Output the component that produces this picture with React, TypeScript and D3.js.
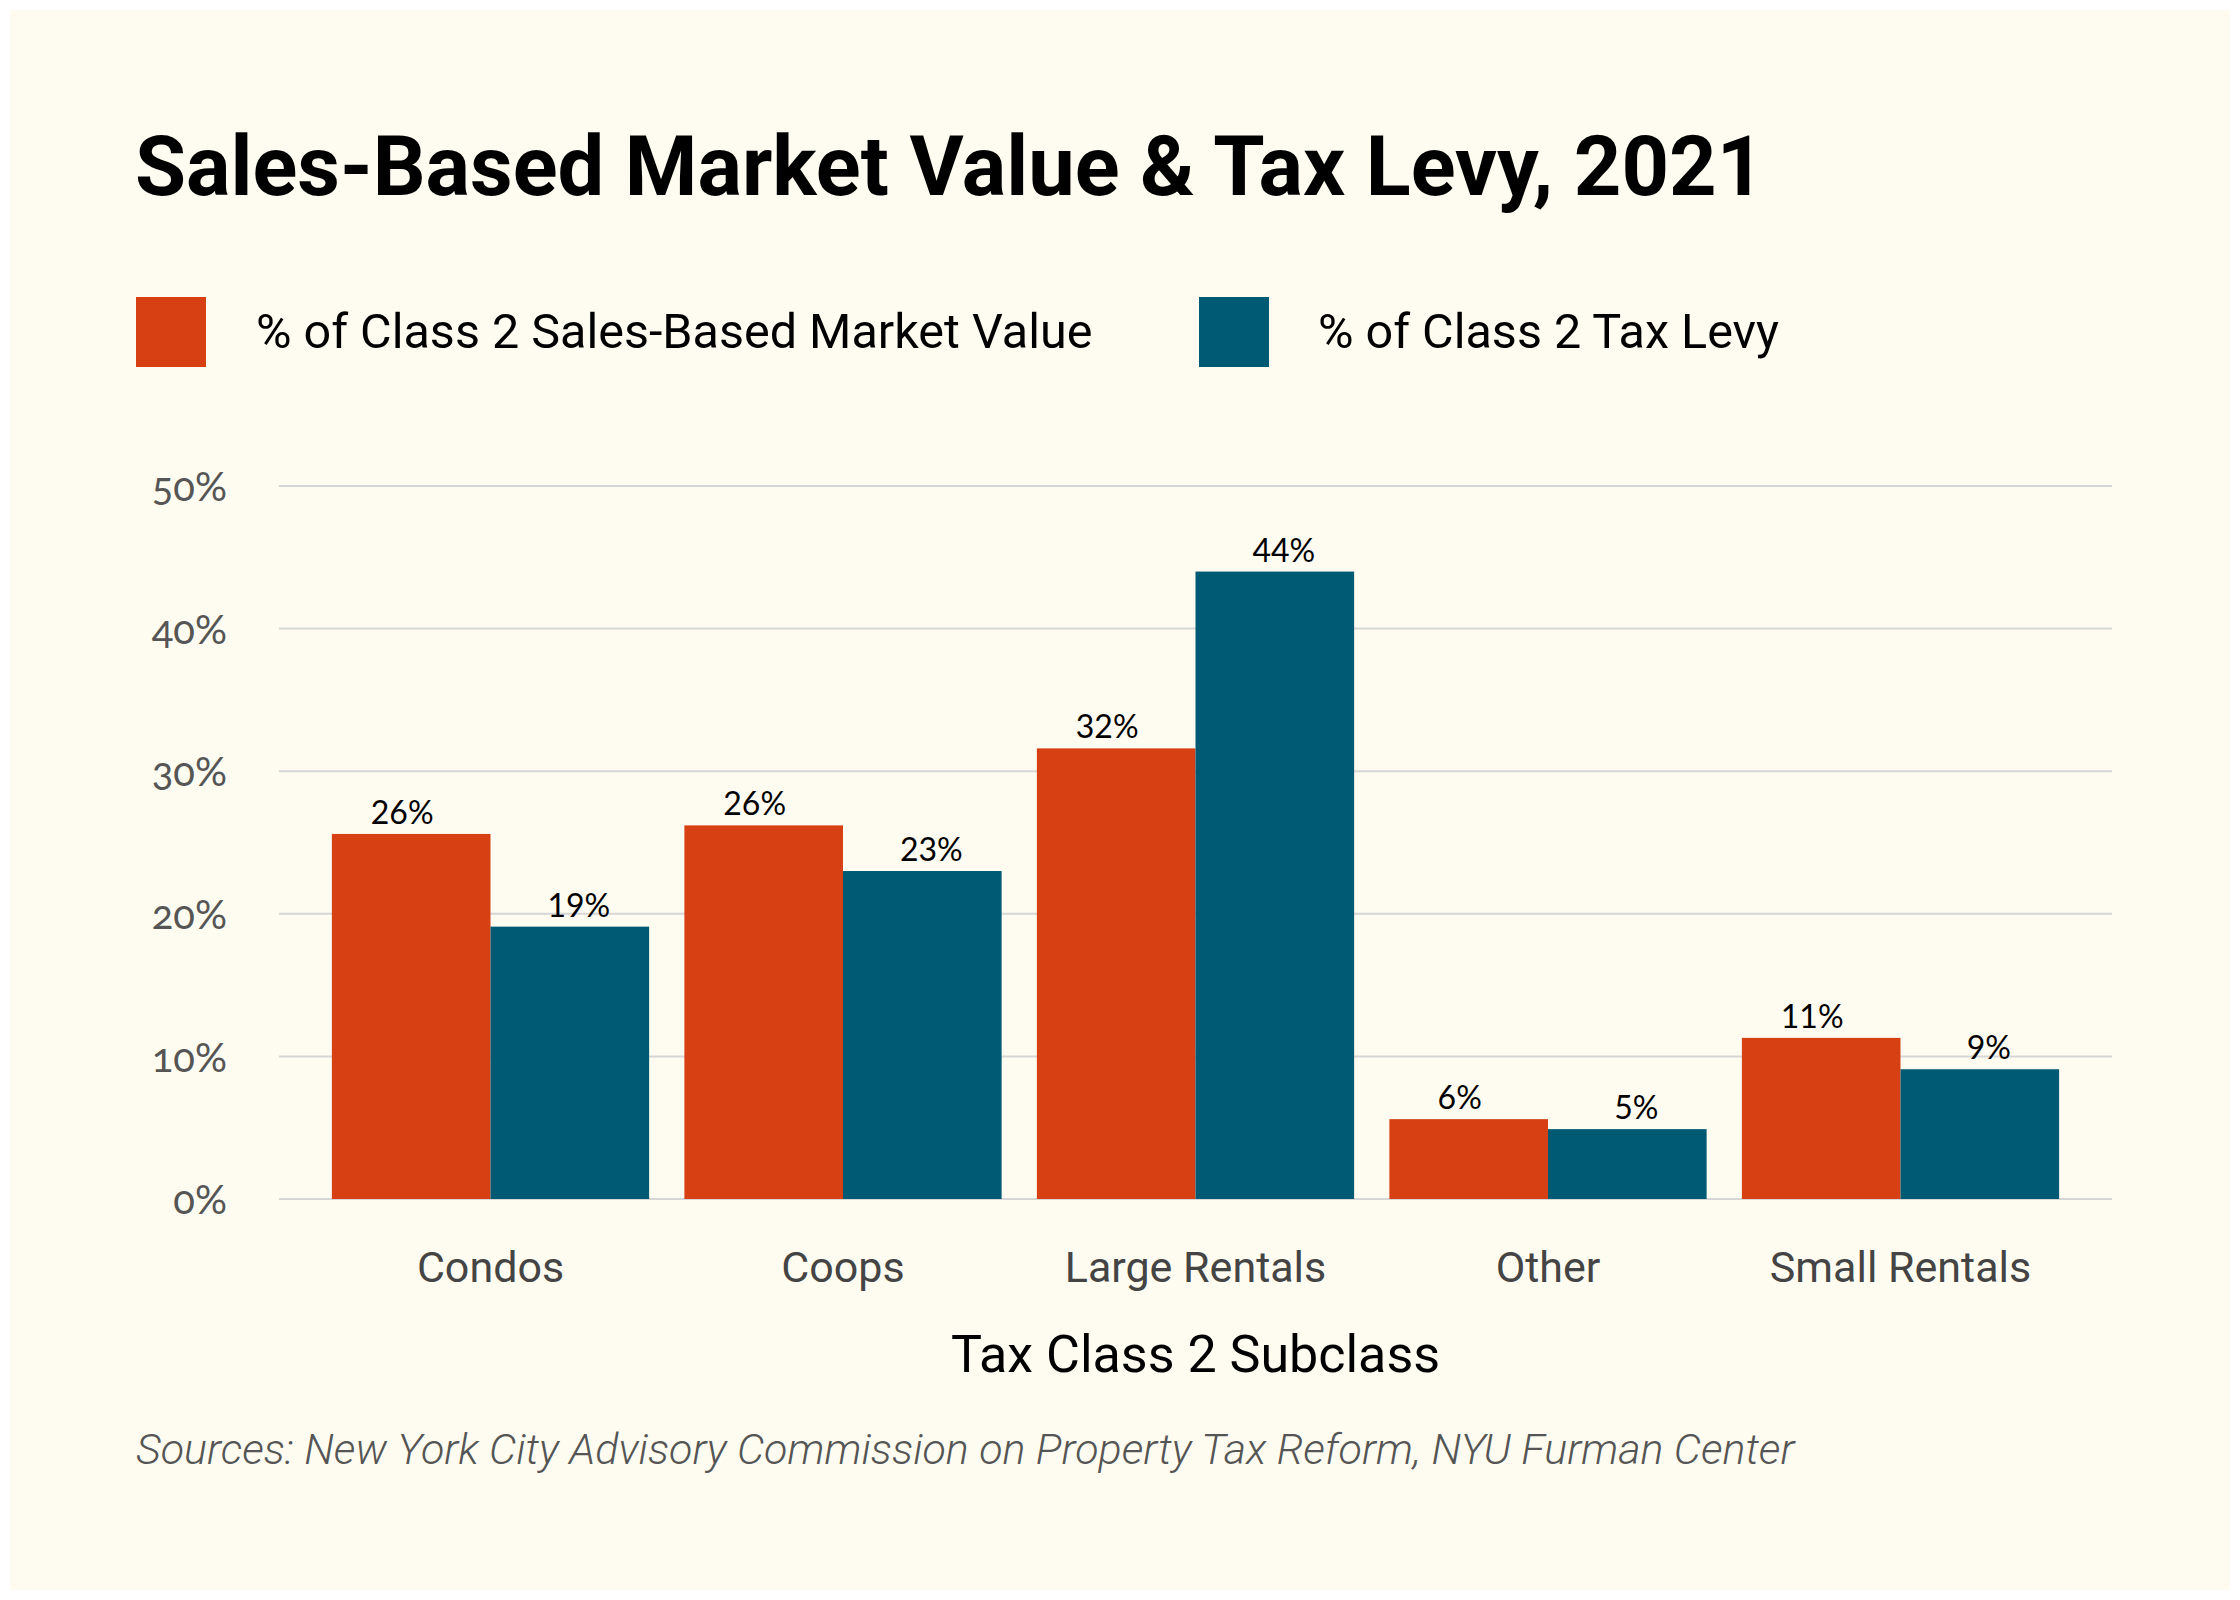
import React from "react";
import * as d3 from "d3";

// 資料
const categories = ["Condos", "Coops", "Large Rentals", "Other", "Small Rentals"];
const seriesNames = ["% of Class 2 Sales-Based Market Value", "% of Class 2 Tax Levy"];
const marketValue = [25.6, 26.2, 31.6, 5.6, 11.3];
const taxLevy = [19.1, 23.0, 44.0, 4.9, 9.1];
const yTicks = [0, 10, 20, 30, 40, 50];
const colors = ["#D64012", "#005A74"];

const W = 2240;
const H = 1600;
const plot = { left: 279, right: 2112, top: 486, bottom: 1199 };

const mainFont = "Roboto, 'Noto Sans', sans-serif";
const numFont = "Lato, 'Open Sans', sans-serif";

export default function App() {
    const x0 = d3.scaleBand<string>()
        .domain(categories)
        .range([plot.left, plot.right])
        .paddingInner(0.1)
        .paddingOuter(0.15);
    const x1 = d3.scaleBand<number>()
        .domain([0, 1])
        .range([0, x0.bandwidth()]);
    const y = d3.scaleLinear().domain([0, 50]).range([plot.bottom, plot.top]);

    const rows = categories.map((c, i) => ({ c, vals: [marketValue[i], taxLevy[i]] }));

    return (
        <svg width={W} height={H} style={{ position: "absolute", left: 0, top: 0 }}>
            <rect x={0} y={0} width={W} height={H} fill="#ffffff" />
            <rect x={10} y={10} width={W - 20} height={H - 20} fill="#FEFCF0" />

            {/* 標題 */}
            <text x={135} y={195} fontFamily={mainFont} fontWeight={700} fontSize={83} fill="#000">
                Sales-Based Market Value &amp; Tax Levy, 2021
            </text>

            {/* 圖例 */}
            <rect x={136} y={297} width={70} height={70} fill={colors[0]} />
            <text x={256} y={348} fontFamily={mainFont} fontSize={48.5} fill="#000">{seriesNames[0]}</text>
            <rect x={1199} y={297} width={70} height={70} fill={colors[1]} />
            <text x={1318} y={348} fontFamily={mainFont} fontSize={48.5} fill="#000">{seriesNames[1]}</text>

            {/* 格線與 y 軸 */}
            {yTicks.map(t => (
                <g key={t}>
                    <line x1={plot.left} x2={plot.right} y1={y(t)} y2={y(t)} stroke="#d6d6d6" strokeWidth={2} />
                    <text x={227} y={y(t)} dy="0.38em" textAnchor="end" fontFamily={numFont}
                        fontSize={40} fill="#555" style={{ fontVariantNumeric: "oldstyle-nums" }}>
                        {t}%
                    </text>
                </g>
            ))}

            {/* 長條 */}
            {rows.map(r => (
                <g key={r.c} transform={`translate(${x0(r.c)},0)`}>
                    {r.vals.map((v, j) => (
                        <rect key={j} x={x1(j)} y={y(v)} width={x1.bandwidth()} height={y(0) - y(v)} fill={colors[j]} />
                    ))}
                    {r.vals.map((v, j) => (
                        <text key={"t" + j} x={(x1(j) as number) + x1.bandwidth() / 2 + (j === 0 ? -9 : 9)} y={y(v) - 10}
                            textAnchor="middle" fontFamily={numFont} fontSize={32} fill="#000">
                            {Math.round(v)}%
                        </text>
                    ))}
                </g>
            ))}

            {/* x 軸 */}
            {categories.map(c => (
                <text key={c} x={(x0(c) as number) + x0.bandwidth() / 2} y={1282} textAnchor="middle"
                    fontFamily={mainFont} fontSize={43} fill="#444">
                    {c}
                </text>
            ))}
            <text x={(plot.left + plot.right) / 2} y={1372} textAnchor="middle" fontFamily={mainFont} fontSize={52} fill="#000">
                Tax Class 2 Subclass
            </text>

            {/* 資料來源 */}
            <text x={136} y={1464} fontFamily={mainFont} fontStyle="italic" fontWeight={300} fontSize={43} fill="#555">
                Sources: New York City Advisory Commission on Property Tax Reform, NYU Furman Center
            </text>
        </svg>
    );
}
